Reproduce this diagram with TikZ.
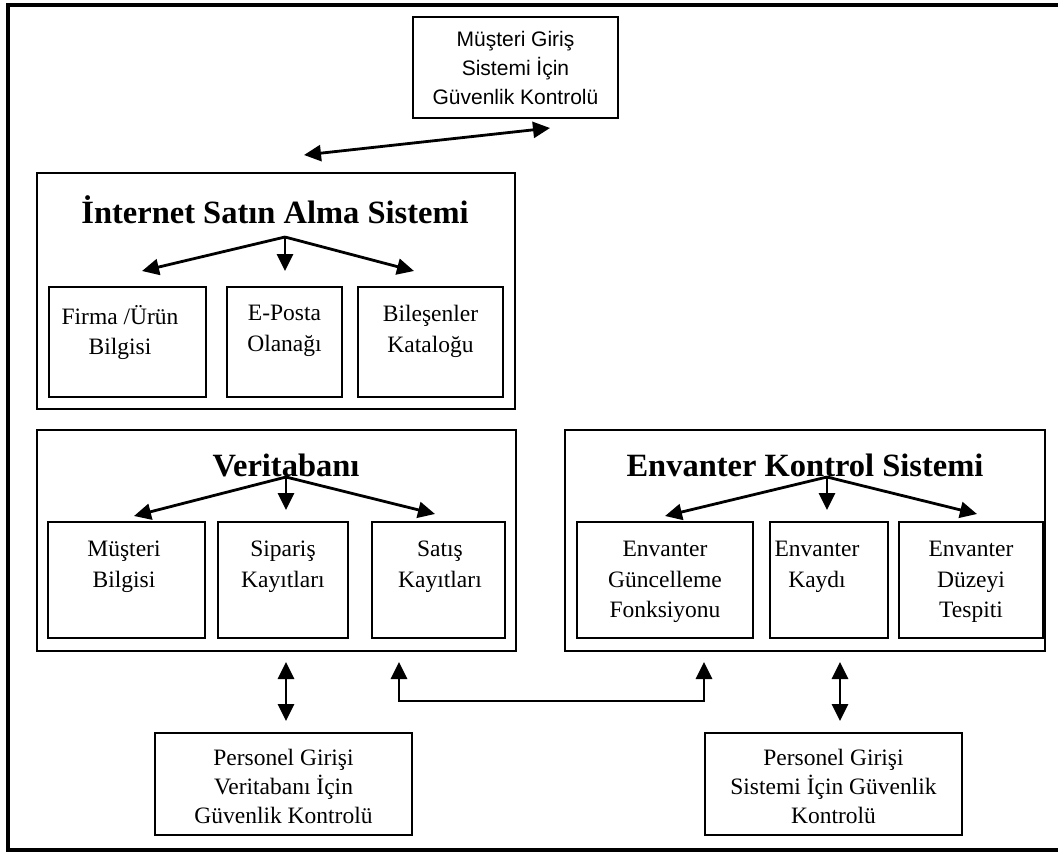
\documentclass[tikz,border=0pt]{standalone}
\usepackage{fontspec}
\setmainfont{Liberation Serif}
\newfontfamily\arialf{Liberation Sans}
\usetikzlibrary{arrows.meta}
\tikzset{
  x=1pt,y=-1pt,
  box/.style={draw,line width=1.6pt,inner sep=0pt,outer sep=0pt},
  frame/.style={draw,line width=4pt},
  tip/.style={},
  arr/.style={line width=2.8pt,-{Triangle[length=17pt,width=16pt]}},
  darr/.style={line width=2.8pt,{Triangle[length=17pt,width=16pt]}-{Triangle[length=17pt,width=16pt]}},
  title/.style={font=\fontsize{32.5}{36}\selectfont\bfseries,inner sep=0pt},
  sub/.style={font=\fontsize{23.5}{30.5}\selectfont,align=center,inner sep=0pt,anchor=north},
  sans/.style={font=\arialf\fontsize{21}{29}\selectfont,align=center,inner sep=0pt},
}
\newcommand{\mybox}[5]{\node[box,minimum width={#4-#2},minimum height={#5-#3}] (#1) at ({(#2+#4)/2},{(#3+#5)/2}) {};}
\begin{document}
\begin{tikzpicture}
\useasboundingbox (0,0) rectangle (1058,852);
\draw[frame] (1070,5) -- (8,5) -- (8,850) -- (1070,850);

% top box
\mybox{mg}{413}{17}{618}{118}
\node[sans] at (mg.center) {Müşteri Giriş\\Sistemi İçin\\Güvenlik Kontrolü};

% Internet
\mybox{isa}{37}{173}{515}{409}
\node[title] (isat) at (275,210) {İnternet Satın Alma Sistemi};
\mybox{fu}{49}{287}{206}{397}
\mybox{ep}{227}{287}{342}{397}
\mybox{bk}{358}{287}{503}{397}
\node[sub] at (120,305) {Firma /Ürün\\Bilgisi};
\node[sub] at (ep.north |- 0,305) {E-Posta\\Olanağı};
\node[sub] at (bk.north |- 0,305) {Bileşenler\\Kataloğu};
\coordinate (io) at (285,237);
\coordinate (il) at (142,271);
\coordinate (im) at (285,271);
\coordinate (ir) at (414,271);
\draw[arr] (io) -- (il);
\draw[arr] (io) -- (im);
\draw[arr] (io) -- (ir);

% top arrow
\coordinate (ta) at (304,155);
\coordinate (tb) at (550,128);
\draw[darr] (ta) -- (tb);

% Veritabani
\mybox{vt}{37}{430}{516}{651}
\node[title] (vtt) at (286,465) {Veritabanı};
\mybox{mb}{48}{522}{205}{638}
\mybox{sk}{218}{522}{348}{638}
\mybox{tk}{372}{522}{505}{638}
\node[sub] at (124,541) {Müşteri\\Bilgisi};
\node[sub] at (sk.north |- 0,541) {Sipariş\\Kayıtları};
\node[sub] at (440,541) {Satış\\Kayıtları};
\coordinate (vo) at (286,477);
\coordinate (vl) at (134,516);
\coordinate (vm) at (286,510);
\coordinate (vr) at (435,514);
\draw[arr] (vo) -- (vl);
\draw[arr] (vo) -- (vm);
\draw[arr] (vo) -- (vr);

% Envanter
\mybox{ek}{565}{430}{1045}{651}
\node[title] (ekt) at (805,465) {Envanter Kontrol Sistemi};
\mybox{eg}{577}{522}{753}{638}
\mybox{ed}{770}{522}{888}{638}
\mybox{ez}{899}{522}{1043}{638}
\node[sub] at (eg.north |- 0,541) {Envanter\\Güncelleme\\Fonksiyonu};
\node[sub] at (817,541) {Envanter\\Kaydı};
\node[sub] at (ez.north |- 0,541) {Envanter\\Düzeyi\\Tespiti};
\coordinate (eo) at (827,477);
\coordinate (el) at (665,516);
\coordinate (em) at (827,510);
\coordinate (er) at (977,514);
\draw[arr] (eo) -- (el);
\draw[arr] (eo) -- (em);
\draw[arr] (eo) -- (er);

% bottom boxes
\mybox{pv}{155}{733}{412}{835}
\node[sub,anchor=center,font=\fontsize{23.5}{29}\selectfont] at ([yshift=-2pt]pv.center) {Personel Girişi\\Veritabanı İçin\\Güvenlik Kontrolü};
\mybox{ps}{705}{733}{962}{835}
\node[sub,anchor=center,font=\fontsize{23.5}{29}\selectfont] at ([yshift=-2pt]ps.center) {Personel Girişi\\Sistemi İçin Güvenlik\\Kontrolü};

% lower connectors
\coordinate (d1a) at (286,662);
\coordinate (d1b) at (286,721);
\draw[darr] (d1a) -- (d1b);
\coordinate (d2a) at (840,662);
\coordinate (d2b) at (840,721);
\draw[darr] (d2a) -- (d2b);
\coordinate (la) at (399,662);
\coordinate (lb) at (704,662);
\draw[darr] (la) -- (399,701) -- (704,701) -- (lb);
\end{tikzpicture}
\end{document}
